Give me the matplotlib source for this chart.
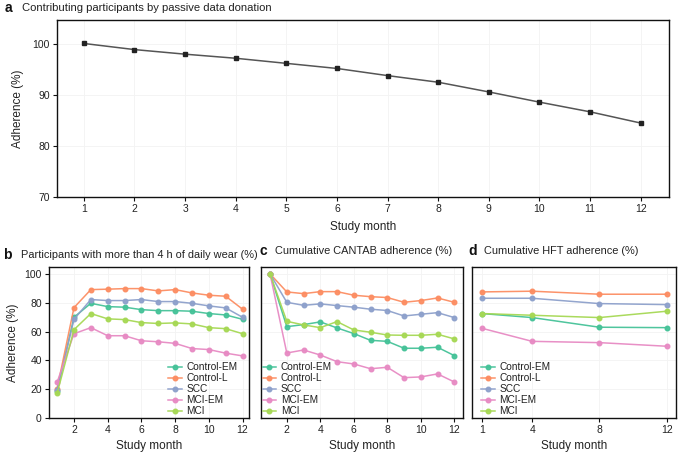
import matplotlib
matplotlib.use("Agg")
import matplotlib.pyplot as plt

plt.rcParams['font.family'] = ['Liberation Sans', 'DejaVu Sans']

# ---- data ----
months_a = list(range(1, 13))
passive = [100.1, 98.9, 98.0, 97.2, 96.2, 95.2, 93.8, 92.5, 90.6, 88.6, 86.7, 84.5]

groups = ["Control-EM", "Control-L", "SCC", "MCI-EM", "MCI"]
colors = ["#45c298", "#fc8d62", "#8da0cb", "#e78ac3", "#a6d854"]

months_b = list(range(1, 13))
wear_control_em = [19.0, 69.9, 79.6, 77.3, 76.9, 75.2, 74.5, 74.5, 74.1, 72.5, 71.5, 68.5]
wear_control_l = [20.4, 76.6, 89.1, 89.4, 89.8, 89.8, 88.2, 89.1, 86.8, 85.2, 84.5, 75.5]
wear_scc = [19.5, 68.5, 82.2, 81.5, 81.5, 82.2, 80.8, 80.8, 79.6, 77.8, 76.4, 69.9]
wear_mci_em = [24.8, 58.5, 62.7, 57.1, 57.1, 53.6, 52.9, 51.8, 48.2, 47.5, 45.0, 43.1]
wear_mci = [17.1, 61.3, 72.5, 68.8, 68.3, 66.2, 65.6, 66.0, 65.3, 62.7, 62.0, 58.5]

months_c = list(range(1, 13))
cantab_control_em = [100, 63.4, 64.8, 66.7, 62.5, 58.6, 53.9, 53.2, 48.4, 48.4, 49.1, 43.3]
cantab_control_l = [100, 87.5, 86.3, 87.7, 87.7, 85.2, 84.2, 83.6, 80.3, 81.5, 83.3, 80.3]
cantab_scc = [100, 80.3, 78.2, 79.2, 78.0, 76.9, 75.5, 74.6, 70.8, 72.0, 73.1, 69.7]
cantab_mci_em = [100, 45.1, 47.2, 43.7, 39.1, 37.5, 34.2, 35.2, 28.0, 28.5, 30.6, 25.0]
cantab_mci = [100, 67.1, 64.6, 62.7, 66.9, 61.1, 59.5, 57.6, 57.4, 57.4, 58.1, 54.9]

months_d = [1, 4, 8, 12]
hft_control_em = [72.5, 69.7, 63.0, 62.7]
hft_control_l = [87.5, 88.0, 85.9, 85.9]
hft_scc = [83.1, 83.1, 79.4, 78.7]
hft_mci_em = [62.3, 53.2, 52.3, 49.8]
hft_mci = [72.5, 71.3, 69.7, 74.1]

wear = [wear_control_em, wear_control_l, wear_scc, wear_mci_em, wear_mci]
cantab = [cantab_control_em, cantab_control_l, cantab_scc, cantab_mci_em, cantab_mci]
hft = [hft_control_em, hft_control_l, hft_scc, hft_mci_em, hft_mci]

W, H = 683, 455
fig = plt.figure(figsize=(W / 100, H / 100), dpi=100)

def box(l, t, r, b):
    return [l / W, 1 - b / H, (r - l) / W, (b - t) / H]

TXT = "#222222"
tick_fs = 7.5
lab_fs = 8.5
title_fs = 7.9

def style(ax):
    for s in ax.spines.values():
        s.set_linewidth(1.0)
        s.set_color("#111111")
    ax.tick_params(direction="out", length=3, width=0.8, labelsize=tick_fs,
                   colors="#111111", labelcolor=TXT, pad=2)
    ax.grid(True, color="#f3f3f3", linewidth=0.6)
    ax.set_axisbelow(True)

# ---- panel a ----
axa = fig.add_axes(box(57, 20, 669, 197))
axa.plot(months_a, passive, color="#555555", lw=1.1, marker="s", ms=2.2,
         mfc="#222222", mec="#222222")
axa.set_xlim(0.47, 12.56)
axa.set_ylim(70, 104.7)
axa.set_yticks([70, 80, 90, 100])
axa.set_xticks(months_a)
style(axa)
axa.set_xlabel("Study month", fontsize=lab_fs, color=TXT, labelpad=5)
axa.set_ylabel("Adherence (%)", fontsize=lab_fs, color=TXT, labelpad=6)
fig.text(5 / W, 1 - 8 / H, "a", fontsize=10, fontweight="bold", va="center", color="#111111")
fig.text(22 / W, 1 - 8 / H, "Contributing participants by passive data donation",
         fontsize=8.1, va="center", color=TXT)

def group_panel(ax, xs, data, legend_loc, legend_anchor):
    for vals, c, g in zip(data, colors, groups):
        ax.plot(xs, vals, color=c, lw=1.1, marker="o", ms=3.3, label=g, alpha=0.95)
    ax.set_ylim(0, 105)
    style(ax)
    ax.set_xlabel("Study month", fontsize=lab_fs, color=TXT, labelpad=4)
    leg = ax.legend(loc=legend_loc, bbox_to_anchor=legend_anchor, frameon=False,
                    fontsize=7.3, handlelength=1.35, handletextpad=0.45,
                    labelspacing=0.1, borderaxespad=0.0, borderpad=0.15)
    for t in leg.get_texts():
        t.set_color(TXT)

# ---- panel b ----
axb = fig.add_axes(box(48.7, 266.7, 249.3, 418))
group_panel(axb, months_b, wear, "lower right", (0.95, 0.0))
axb.set_xlim(0.5, 12.4)
axb.set_xticks([2, 4, 6, 8, 10, 12])
axb.set_yticks([0, 20, 40, 60, 80, 100])
axb.set_ylabel("Adherence (%)", fontsize=lab_fs, color=TXT, labelpad=4)
fig.text(3 / W, 1 - 255 / H, "b", fontsize=10, fontweight="bold", va="center", color="#111111")
fig.text(21 / W, 1 - 255 / H, "Participants with more than 4 h of daily wear (%)",
         fontsize=title_fs, va="center", color=TXT)

# ---- panel c ----
axc = fig.add_axes(box(261, 266.7, 463, 418))
group_panel(axc, months_c, cantab, "lower left", (0.0, 0.0))
axc.set_xlim(0.46, 12.52)
axc.set_xticks([2, 4, 6, 8, 10, 12])
axc.set_yticks([0, 20, 40, 60, 80, 100])
axc.tick_params(axis="y", left=False, labelleft=False)
fig.text(259 / W, 1 - 251 / H, "c", fontsize=10, fontweight="bold", va="center", color="#111111")
fig.text(275 / W, 1 - 251 / H, "Cumulative CANTAB adherence (%)",
         fontsize=title_fs, va="center", color=TXT)

# ---- panel d ----
axd = fig.add_axes(box(472.3, 266.7, 675.7, 418))
group_panel(axd, months_d, hft, "lower left", (0.035, 0.0))
axd.set_xlim(0.44, 12.54)
axd.set_xticks(months_d)
axd.set_yticks([0, 20, 40, 60, 80, 100])
axd.tick_params(axis="y", left=False, labelleft=False)
fig.text(468 / W, 1 - 251 / H, "d", fontsize=10, fontweight="bold", va="center", color="#111111")
fig.text(484 / W, 1 - 251 / H, "Cumulative HFT adherence (%)",
         fontsize=title_fs, va="center", color=TXT)

fig.savefig("out.png", dpi=100)
